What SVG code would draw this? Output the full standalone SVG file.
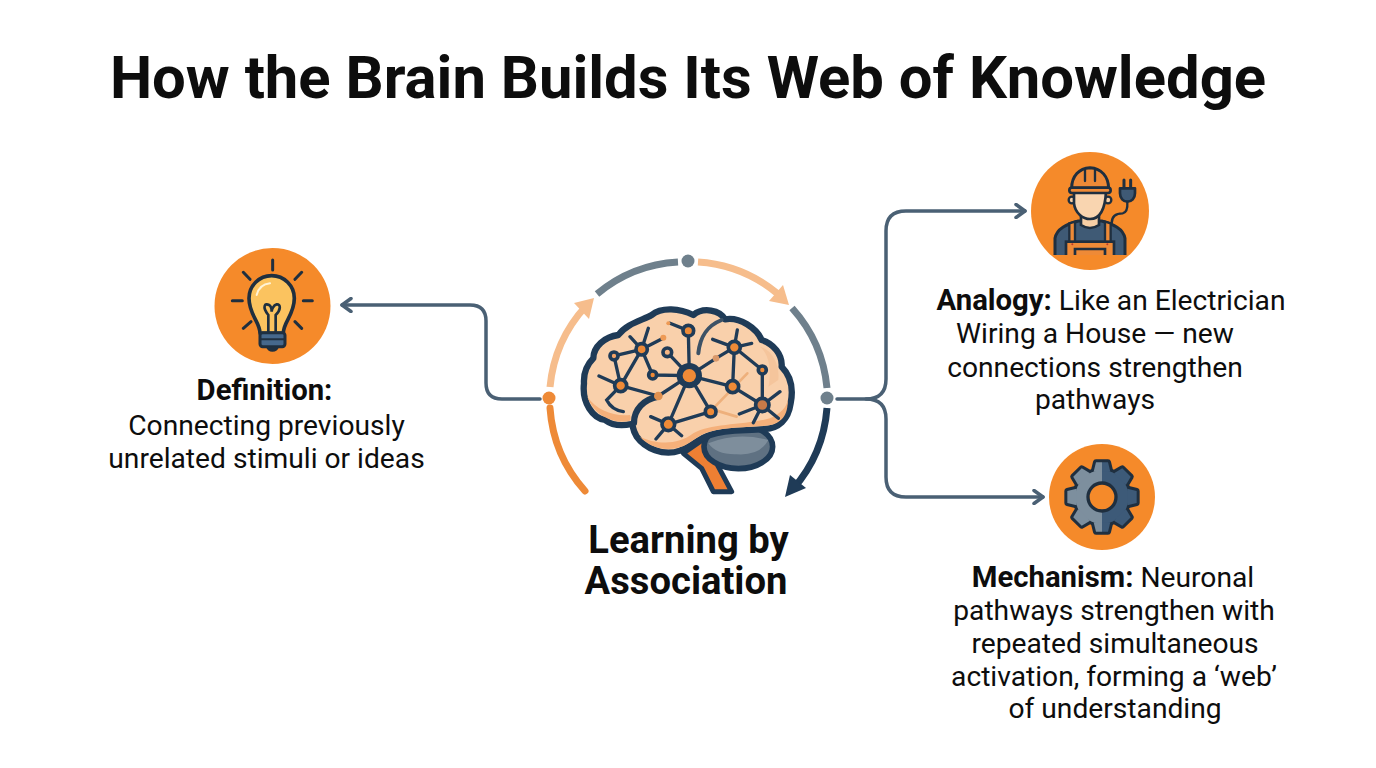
<svg xmlns="http://www.w3.org/2000/svg" width="1376" height="768" viewBox="0 0 1376 768">
<style>
text{font-family:Roboto,"Liberation Sans",sans-serif;fill:#0d0d0d;text-anchor:middle}
.title{font-size:59.800px;font-weight:700}
.hub{font-size:38.200px;font-weight:700}
.body{font-size:28.200px}
.b{font-weight:700;font-size:29.300px}
.conn{fill:none;stroke:#4a6074;stroke-width:3.500;stroke-linecap:round;stroke-linejoin:round}
.ring{fill:none;stroke-width:7}
.net{fill:none;stroke:#1f3b57;stroke-width:10;stroke-linecap:round}
.n{fill:#ee8a37;stroke:#1f3b57;stroke-width:11}
.ln{stroke:#1f2f3f;stroke-linecap:round;fill:none}
</style>
<defs>
<marker id="chev" viewBox="0 0 14 16" refX="12" refY="8" markerWidth="14" markerHeight="16" markerUnits="userSpaceOnUse" orient="auto"><path d="M3,1.500 L12,8 L3,14.500" fill="none" stroke="#4a6074" stroke-width="3.500" stroke-linecap="round" stroke-linejoin="round"/></marker>
<path id="tooth" d="M-25,-76 L-18,-104 L18,-104 L25,-76 Z"/>
<g id="gearShape"><circle r="80"/><use href="#tooth"/><use href="#tooth" transform="rotate(45)"/><use href="#tooth" transform="rotate(90)"/><use href="#tooth" transform="rotate(135)"/><use href="#tooth" transform="rotate(180)"/><use href="#tooth" transform="rotate(225)"/><use href="#tooth" transform="rotate(270)"/><use href="#tooth" transform="rotate(315)"/></g>
<clipPath id="gl"><rect x="-130" y="-130" width="130" height="260"/></clipPath>
<clipPath id="gr"><rect x="0" y="-130" width="130" height="260"/></clipPath>
<clipPath id="elec"><rect x="90" y="200" width="240" height="130"/></clipPath>
</defs>
<rect width="1376" height="768" fill="#fff"/>
<g id="title"><text class="title" x="688" y="98">How the Brain Builds Its Web of Knowledge</text></g>

<g id="connectors">
<path class="conn" d="M540,399 H502 Q486,399 486,383 V321 Q486,305 470,305 H342" marker-end="url(#chev)"/>
<path class="conn" d="M837,399 H866 Q886,399 886,379 V231 Q886,211 906,211 H1025" marker-end="url(#chev)"/>
<path class="conn" d="M866,399 Q886,399 886,419 V477 Q886,497 906,497 H1043" marker-end="url(#chev)"/>
</g>

<g id="cycle">
<path class="ring" stroke="#ee8a37" stroke-linecap="round" d="M550,408 A139,139 0 0 0 585,491"/>
<path class="ring" stroke="#f6bd8c" d="M550,387 A139,139 0 0 1 586,306"/>
<path fill="#f6bd8c" d="M594,298 L574,303 L589,319 Z"/>
<path class="ring" stroke="#6f808c" d="M597,294 A139,139 0 0 1 678,262"/>
<path class="ring" stroke="#f6bd8c" d="M698,262 A139,139 0 0 1 778,294"/>
<path fill="#f6bd8c" d="M789,305 L783,285 L769,301 Z"/>
<path class="ring" stroke="#6f808c" d="M792,308 A139,139 0 0 1 827,388"/>
<path class="ring" stroke="#1f3b57" d="M827,408 A139,139 0 0 1 793,489"/>
<path fill="#1f3b57" d="M785,497 L790,475 L806,488 Z"/>
<circle cx="549" cy="398" r="6.500" fill="#ee8a37"/>
<circle cx="688" cy="261" r="6.500" fill="#6f808c"/>
<circle cx="827" cy="398" r="6.500" fill="#6f808c"/>
</g>

<g id="brain" transform="translate(530 240) scale(0.3333)">
<path d="M460,640 L525,595 L565,680 L605,755 L550,755 L515,685 Z" fill="#ee7f33" stroke="#1f3b57" stroke-width="15" stroke-linejoin="round"/>
<ellipse cx="625" cy="620" rx="103" ry="66" fill="#5f7182" stroke="#1f3b57" stroke-width="17"/>
<path d="M535,610 Q620,575 715,600 Q690,648 620,643 Q560,645 535,610 Z" fill="#7e8e9c"/>
<path id="cortex" d="M320,590 C305,565 310,555 305,552 C270,560 245,555 225,540 C190,535 155,490 162,430 C160,395 175,370 190,355 C190,320 225,290 265,285 C290,250 340,240 365,225 C395,200 450,205 490,225 C520,200 570,210 585,238 C630,230 680,265 695,300 C730,310 758,345 755,380 C785,410 790,450 782,490 C775,540 745,565 705,567 C650,573 590,567 540,585 C505,595 480,625 450,632 C400,650 345,625 320,590 Z" fill="#f9d0ab" stroke="#1f3b57" stroke-width="19" stroke-linejoin="round"/>
<path d="M172,470 C200,510 250,530 300,525 C305,540 300,543 296,543 C250,550 195,530 172,470 Z" fill="#f5b07a"/>
<path d="M330,590 C370,610 440,620 490,580 C540,550 650,555 720,535 C755,520 770,500 773,480 C775,530 750,555 705,557 C650,563 590,560 535,576 C500,587 478,615 448,622 C405,635 355,620 330,590 Z" fill="#f5b07a"/>
<path d="M690,320 C720,345 725,400 715,440 L745,420 C750,380 730,330 690,320 Z" fill="#f5c59c"/>
<path d="M385,470 C340,478 312,510 312,548" fill="none" stroke="#1f3b57" stroke-width="19" stroke-linecap="round"/>
<path d="M505,340 C510,290 530,258 575,240" fill="none" stroke="#3d5266" stroke-width="12" stroke-linecap="round"/>
<path d="M555,500 L652,400 M560,512 L620,530" fill="none" stroke="#eeb07c" stroke-width="8" stroke-linecap="round"/>
<path class="net" d="M478,407 L475,272 M420,250 L475,272 M478,407 L412,337 M478,407 L368,405 M478,407 L385,468 M478,407 L415,553 M478,407 L542,515 M478,407 L608,440 M478,407 L558,355 L613,322 M335,328 L252,348 M335,328 L272,437 M335,328 L368,405 M335,328 L300,290 M335,328 L355,265 M335,328 L395,297 M252,348 L272,437 M272,437 L385,468 M272,437 L207,408 M272,437 L230,480 C240,500 260,512 280,515 M613,322 L548,298 M613,322 L622,270 M613,322 L665,310 M613,322 L697,390 M613,322 L608,440 M608,440 L697,495 M697,390 L697,495 M697,495 L750,455 M697,495 L745,535 M697,495 L670,548 M697,495 L628,522 M415,553 L542,515 M415,553 L362,530 M415,553 L378,597 M415,553 L455,587"/>
<circle cx="478" cy="407" r="38" fill="#1f3b57"/>
<circle cx="478" cy="407" r="20" fill="#ee8a37"/>
<circle class="n" cx="335" cy="328" r="17"/>
<circle class="n" cx="252" cy="348" r="12" style="fill:#f3a468"/>
<circle class="n" cx="272" cy="437" r="18"/>
<circle class="n" cx="368" cy="405" r="12"/>
<circle class="n" cx="412" cy="337" r="13" style="fill:#f5b684"/>
<circle class="n" cx="475" cy="272" r="16"/>
<circle class="n" cx="613" cy="322" r="18"/>
<circle class="n" cx="697" cy="390" r="12"/>
<circle class="n" cx="608" cy="440" r="18"/>
<circle class="n" cx="697" cy="495" r="20" style="fill:#c97a48"/>
<circle class="n" cx="542" cy="515" r="16"/>
<circle class="n" cx="415" cy="553" r="19"/>
<circle cx="385" cy="468" r="13" fill="#e0904f"/>
<circle cx="400" cy="293" r="9" fill="#ee9a55"/>
<circle cx="558" cy="355" r="10" fill="#d9986a"/>
<circle cx="415" cy="250" r="6" fill="#ee9a55"/>
</g>

<g id="hub-label">
<text class="hub" x="688.500" y="553">Learning by</text>
<text class="hub" x="686" y="594">Association</text>
</g>

<g id="definition">
<circle cx="272.500" cy="306" r="58" fill="#f58a2a"/>
<g transform="translate(205 240) scale(0.3333)">
<path class="ln" stroke-width="9" d="M203,60 V90 M115,97 L135,118 M290,97 L270,118 M82,182 H112 M295,182 H322 M115,265 L138,245 M290,265 L270,245"/>
<path d="M165,280 C165,245 132,225 132,175 A68,68 0 0 1 268,175 C268,225 235,245 235,280 Z" fill="#fbc35f" stroke="#1f2f3f" stroke-width="11" stroke-linejoin="round"/>
<path d="M155,165 C160,145 175,132 195,130" fill="none" stroke="#fff3d6" stroke-width="6" stroke-linecap="round"/>
<path class="ln" stroke-width="8" d="M190,275 V225 C170,200 180,188 192,195 C200,200 200,210 200,215 C200,210 205,195 215,193 C228,192 228,210 212,225 V275"/>
<rect x="165" y="278" width="75" height="42" rx="8" fill="#46688c" stroke="#1f2f3f" stroke-width="9"/>
<path class="ln" stroke-width="6" d="M168,298 H238"/>
<path d="M183,320 H222 Q218,335 202,335 Q188,335 183,320 Z" fill="#1f2f3f"/>
</g>
<text class="body b" x="264.500" y="400">Definition:</text>
<text class="body" x="266.500" y="435">Connecting previously</text>
<text class="body" x="266.500" y="468">unrelated stimuli or ideas</text>
</g>

<g id="analogy">
<circle cx="1090" cy="211" r="59" fill="#f58a2a"/>
<g transform="translate(1020 145) scale(0.3333)">
<g clip-path="url(#elec)">
<path d="M105,335 V280 C110,250 140,238 175,228 H245 C280,238 310,250 315,280 V335 Z" fill="#3f5a75" stroke="#1f2f3f" stroke-width="9" stroke-linejoin="round"/>
<path d="M183,205 H237 V240 Q210,258 183,240 Z" fill="#f7cfa5" stroke="#1f2f3f" stroke-width="8"/>
<path d="M148,235 L165,230 V292 H148 Z M255,230 L272,235 V292 H255 Z" fill="#ee8a37" stroke="#1f2f3f" stroke-width="7"/>
<rect x="138" y="290" width="144" height="50" fill="#ee8a37" stroke="#1f2f3f" stroke-width="8"/>
<path d="M165,335 V312 H255 V335" fill="none" stroke="#1f2f3f" stroke-width="8"/>
<circle cx="157" cy="298" r="3" fill="#c0392b"/><circle cx="262" cy="298" r="3" fill="#c0392b"/>
</g>
<circle cx="156" cy="165" r="10" fill="#f7cfa5" stroke="#1f2f3f" stroke-width="7"/>
<circle cx="264" cy="165" r="10" fill="#f7cfa5" stroke="#1f2f3f" stroke-width="7"/>
<path d="M162,140 V175 C165,205 190,222 210,222 C232,222 255,205 258,140 Z" fill="#f9d5b0" stroke="#1f2f3f" stroke-width="8"/>
<path d="M155,130 C155,92 178,70 210,68 C245,70 265,95 266,130 Z" fill="#ee8a37" stroke="#1f2f3f" stroke-width="9" stroke-linejoin="round"/>
<path class="ln" stroke-width="7" d="M195,75 V108 M225,75 V108"/>
<rect x="148" y="128" width="124" height="16" rx="8" fill="#ee8a37" stroke="#1f2f3f" stroke-width="8"/>
<path d="M275,235 C275,208 295,205 308,205 C320,203 323,185 322,170" fill="none" stroke="#1f2f3f" stroke-width="7" stroke-linecap="round"/>
<path class="ln" stroke-width="9" d="M312,105 V130 M332,105 V130"/>
<path d="M300,130 H345 V145 C345,160 335,170 322,170 C310,170 300,160 300,145 Z" fill="#3f5a75" stroke="#1f2f3f" stroke-width="8" stroke-linejoin="round"/>
</g>
<text class="body" x="1111" y="310"><tspan class="b">Analogy:</tspan> Like an Electrician</text>
<text class="body" x="1095" y="343">Wiring a House — new</text>
<text class="body" x="1095" y="377">connections strengthen</text>
<text class="body" x="1095" y="409">pathways</text>
</g>

<g id="mechanism">
<circle cx="1102" cy="497" r="53" fill="#f58a2a"/>
<g transform="translate(1102 497) scale(0.3333)">
<use href="#gearShape" fill="#1f2f3f" stroke="#1f2f3f" stroke-width="18" stroke-linejoin="round"/>
<g clip-path="url(#gl)"><use href="#gearShape" fill="#7d8f9e"/></g>
<g clip-path="url(#gr)"><use href="#gearShape" fill="#3d5a78"/></g>
<circle r="42" fill="#f58a2a" stroke="#1f2f3f" stroke-width="10"/>
</g>
<text class="body" x="1113" y="587"><tspan class="b">Mechanism:</tspan> Neuronal</text>
<text class="body" x="1114" y="620">pathways strengthen with</text>
<text class="body" x="1115" y="653">repeated simultaneous</text>
<text class="body" x="1114" y="686">activation, forming a ‘web’</text>
<text class="body" x="1115" y="718">of understanding</text>
</g>
</svg>
